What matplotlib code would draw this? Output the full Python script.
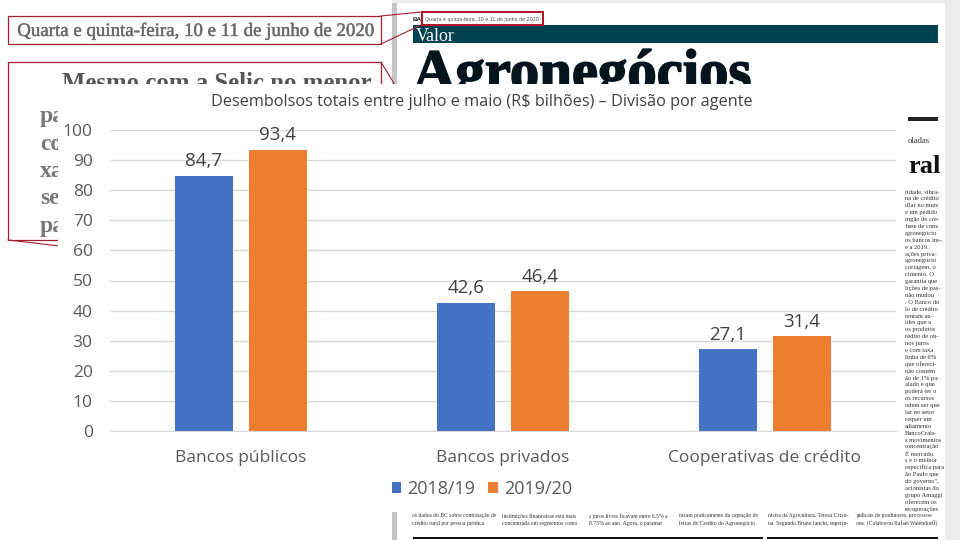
import numpy as np
import matplotlib
matplotlib.use("Agg")
import matplotlib.pyplot as plt
import matplotlib.patheffects as pe
from matplotlib.patches import Rectangle

plt.rcParams["font.family"] = ["Open Sans", "DejaVu Sans"]

categorias = ["Bancos públicos", "Bancos privados", "Cooperativas de crédito"]
safra_2018 = [84.7, 42.6, 27.1]
safra_2019 = [93.4, 46.4, 31.4]
rotulos_2018 = ["84,7", "42,6", "27,1"]
rotulos_2019 = ["93,4", "46,4", "31,4"]
series = ["2018/19", "2019/20"]
titulo = "Desembolsos totais entre julho e maio (R$ bilhões) – Divisão por agente"

# fragments of the newspaper page behind the chart
data_jornal = "Quarta e quinta-feira, 10 e 11 de junho de 2020"
manchete = "Mesmo com a Selic no menor"
inicio_linhas = ["pa", "co", "xa", "se", "pa"]
coluna_direita = ["tidade, sibra-", "na de crédito", "ıllar no mun-", "e um pedido", "ingão de cré-",
                  "base de com-", "agronegócio", "os bancos ins-", "e a 2019.", "ações priva-",
                  "agronegócio", "cortagem, o", "cimento. O", "garantia que", "lições de pas-",
                  "não mudou", ". O Banco do", "lo de crédito", "tentam au-", "ides que a",
                  "os produtos", "rédito de ou-", "nos juros", "e com taxa", "linha de 6%",
                  "que ofereci-", "não contém", "ão de 1% pa-", "alado e que", "poderá ter o",
                  "os recursos", "odem ser que", "lar no setor", "requer um", "adiamento",
                  "BancoCrais-", "s movimentos", "concentração", "É mercado.", "s e o melhor",
                  "específica para", "ão Paulo que", "do governo\",", "acionistas do", "grupo Amaggi",
                  "oferecem os", "recuperações"]
rodape_1 = ["os dados do BC sobre contratação de", "instituições financeiras está mais",
            "s juros livres ficavam entre 6,5% a", "nizam praticamente da captação de",
            "nistra da Agricultura, Tereza Cristi-", "judicais de produtores, processos-"]
rodape_2 = ["crédito rural por pessoa jurídica", "concentrada em segmentos como",
            "8,75% ao ano. Agora, o patamar", "letras de Crédito do Agronegócio",
            "na. Segundo Bruno Ianchi, superin-", "ons. (Colaborou Rafael Walendorff)"]

azul = "#4472C4"
laranja = "#ED7D31"
vermelho = "#A5202E"

fig = plt.figure(figsize=(9.6, 5.4), dpi=100)

# background layer in pixels
bg = fig.add_axes([0, 0, 1, 1])
bg.set_xlim(0, 960)
bg.set_ylim(540, 0)
bg.axis("off")
bg.add_patch(Rectangle((392, 0), 5, 540, color="#c4c4c4", lw=0))
bg.add_patch(Rectangle((392, 0), 568, 3, color="#ececec", lw=0))
bg.add_patch(Rectangle((945, 3), 15, 537, color="#ececec", lw=0))
bg.add_patch(Rectangle((413, 25), 525, 18, color="#00424F", lw=0))
bg.text(416, 41, "Valor", color="white", fontsize=13, family="Liberation Serif", va="baseline")
bg.text(413, 21, "BA", color="#222222", fontsize=4.5, weight="bold", family="Liberation Sans")
bg.text(425, 21, data_jornal, color="#555555", fontsize=3.9, family="Liberation Sans")
bg.add_patch(Rectangle((421.5, 12), 121.5, 13, fill=False, ec="#B01020", lw=1.4))
bg.text(413, 90, "Agronegócios", color="#05141C", fontsize=42.3, weight="bold",
        family="Liberation Serif", va="baseline",
        path_effects=[pe.withStroke(linewidth=1.2, foreground="#05141C")])

bg.add_patch(Rectangle((908, 117), 30, 4, color="#222222", lw=0))

# left call-outs
bg.add_patch(Rectangle((8, 16), 373, 28, fill=False, ec=vermelho, lw=0.9))
bg.add_patch(Rectangle((8, 62), 373, 178, fill=False, ec=vermelho, lw=0.9))
bg.plot([381, 421], [16, 12], color=vermelho, lw=0.8)
bg.plot([381, 421], [44, 25], color=vermelho, lw=0.8)
bg.plot([381, 398], [62, 90], color=vermelho, lw=0.8)
bg.plot([8, 60], [240, 246], color=vermelho, lw=0.8)
bg.text(196, 31, data_jornal, color="#666666", fontsize=13.6, family="Liberation Serif",
        ha="center", va="center", alpha=0.9,
        path_effects=[pe.withStroke(linewidth=0.4, foreground="#777777")])
bg.text(62, 90, manchete, color="#555555", fontsize=17.8, family="Liberation Serif",
        weight="bold", va="baseline")
for y, txt in zip(np.linspace(122, 232, 5), inicio_linhas):
    bg.text(40, y, txt, color="#777777", fontsize=17, family="Liberation Serif",
            weight="bold", va="baseline")

# white panel behind the chart
bg.add_patch(Rectangle((58, 84), 838, 428, color="white", lw=0, zorder=5))

# right column and footer sit above the panel
bg.text(908, 141, "oladas", fontsize=6.2, color="#333333",
        family="Liberation Serif", va="center", zorder=6)
bg.text(908, 173, "ral", fontsize=19, color="#111111", weight="bold",
        family="Liberation Serif", va="baseline", zorder=6)
for y, txt in zip(np.linspace(192, 509, len(coluna_direita)), coluna_direita):
    bg.text(905, y, txt, fontsize=4.7, color="#333333", family="Liberation Serif",
            va="center", zorder=6)
for x, a, b in zip([412, 502, 589, 679, 768, 856], rodape_1, rodape_2):
    bg.text(x, 516, a, fontsize=4.1, color="#333333", family="Liberation Serif", va="center", zorder=6)
    bg.text(x, 523, b, fontsize=4.1, color="#333333", family="Liberation Serif", va="center", zorder=6)
bg.add_patch(Rectangle((413, 537), 350, 2, color="#111111", lw=0, zorder=6))
bg.add_patch(Rectangle((767, 537), 171, 2, color="#111111", lw=0, zorder=6))

# chart
ax = fig.add_axes([110 / 960, 1 - 431 / 540, 786 / 960, 301 / 540])
ax.patch.set_alpha(0)
x = np.arange(len(categorias))
bars1 = ax.bar(x - 0.141, safra_2018, 0.221, color=azul, label=series[0], zorder=3)
bars2 = ax.bar(x + 0.141, safra_2019, 0.221, color=laranja, label=series[1], zorder=3)

ax.set_xlim(-0.5, 2.5)
ax.set_ylim(0, 100)
ax.set_yticks(range(0, 101, 10))
ax.set_xticks(x)
ax.set_xticklabels(categorias, fontsize=12.5, color="#595959")
ax.tick_params(axis="x", length=0, pad=13.5)
ax.tick_params(axis="y", length=0, pad=12.5, labelsize=12.5, labelcolor="#595959")
ax.grid(axis="y", color="#d9d9d9", lw=1, zorder=0)
for s in ["top", "right", "left"]:
    ax.spines[s].set_visible(False)
ax.spines["bottom"].set_color("#d9d9d9")

for b, txt in zip(list(bars1) + list(bars2), rotulos_2018 + rotulos_2019):
    ax.annotate(txt, (b.get_x() + b.get_width() / 2, b.get_height()), xytext=(0, 10.5),
                textcoords="offset points", ha="center", va="center", fontsize=13.5, color="#404040")

fig.text(481.5 / 960, 1 - 102 / 540, titulo, ha="center", va="center", fontsize=11.7, color="#404040")

fig.legend(loc="center", bbox_to_anchor=(482 / 960, 1 - 489 / 540), ncol=2, frameon=False,
           fontsize=13, labelcolor="#595959", handlelength=0.55, handleheight=0.55,
           handletextpad=0.33, columnspacing=0.72)

fig.savefig("out.png", dpi=100)
